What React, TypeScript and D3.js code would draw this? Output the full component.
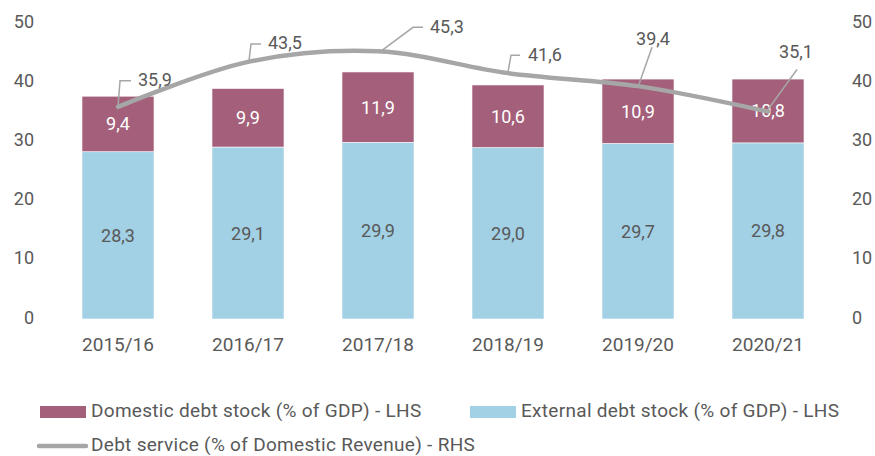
import React from "react";
import * as d3 from "d3";

const categories = ["2015/16", "2016/17", "2017/18", "2018/19", "2019/20", "2020/21"];
const externalDebt = [28.3, 29.1, 29.9, 29.0, 29.7, 29.8];
const domesticDebt = [9.4, 9.9, 11.9, 10.6, 10.9, 10.8];
const debtService = [35.9, 43.5, 45.3, 41.6, 39.4, 35.1];
const leftTicks = [0, 10, 20, 30, 40, 50];
const rightTicks = [0, 10, 20, 30, 40, 50];
const legendLabels = [
  "Domestic debt stock (% of GDP) - LHS",
  "External debt stock (% of GDP) - LHS",
  "Debt service (% of Domestic Revenue) - RHS",
];

// callout layout for line labels (offsets from point): leader path points & text anchor
const callouts = [
  { path: [[0, 0], [2, -26], [13, -26]], text: [20, -27], anchor: "start" },
  { path: [[1, -1], [3, -18], [13, -18]], text: [20, -19], anchor: "start" },
  { path: [[4, -1], [35, -24], [45, -24]], text: [52, -25], anchor: "start" },
  { path: [[0, -1], [3, -18], [12, -18]], text: [20, -19], anchor: "start" },
  { path: [[1, -2], [14, -39]], text: [15, -48], anchor: "middle" },
  { path: [[0, -2], [29, -42]], text: [28, -60], anchor: "middle" },
];

const W = 875;
const H = 456;
const FONT = "Roboto, 'DejaVu Sans', sans-serif";
const TEXT = "#595959";
const DOM = "#A45F7A";
const EXT = "#A2D0E4";
const LINE = "#A6A6A6";

const fmt = (v: number) => v.toFixed(1).replace(".", ",");

export default function App() {
  const x = d3.scaleBand<string>().domain(categories).range([53, 833]).paddingInner(0.446).paddingOuter(0.223);
  const yL = d3.scaleLinear().domain([0, 50]).range([319, 23.5]);
  const yR = d3.scaleLinear().domain([0, 50]).range([319, 23.5]);
  const bw = x.bandwidth();
  const cx = (c: string) => (x(c) as number) + bw / 2;

  const linePath = d3
    .line<number>()
    .x((_, i) => cx(categories[i]))
    .y((d) => yR(d))
    .curve(d3.curveCardinal.tension(0))(debtService) as string;

  return (
    <svg width={W} height={H} style={{ position: "absolute", left: 0, top: 0, background: "#fff" }} fontFamily={FONT}>
      <rect width={W} height={H} fill="#fff" />
      {leftTicks.map((t) => (
        <text key={"l" + t} x={34} y={yL(t) - 2} textAnchor="end" dominantBaseline="central" fontSize={18} fill={TEXT}>
          {t}
        </text>
      ))}
      {rightTicks.map((t) => (
        <text key={"r" + t} x={852} y={yR(t) - 2} textAnchor="start" dominantBaseline="central" fontSize={18} fill={TEXT}>
          {t}
        </text>
      ))}
      {categories.map((c, i) => {
        const x0 = x(c) as number;
        const e = externalDebt[i];
        const d = domesticDebt[i];
        return (
          <g key={c}>
            <rect x={x0} y={yL(e)} width={bw} height={yL(0) - yL(e)} fill={EXT} stroke="#fff" strokeWidth={0.6} />
            <rect x={x0} y={yL(e + d)} width={bw} height={yL(e) - yL(e + d)} fill={DOM} stroke="#fff" strokeWidth={0.6} />
            <text x={cx(c)} y={(yL(0) + yL(e)) / 2} textAnchor="middle" dominantBaseline="central" fontSize={18} fill={TEXT}>
              {fmt(e)}
            </text>
            <text x={cx(c)} y={(yL(e) + yL(e + d)) / 2} textAnchor="middle" dominantBaseline="central" fontSize={18} fill="#fff">
              {fmt(d)}
            </text>
            <text x={cx(c)} y={344} textAnchor="middle" dominantBaseline="central" fontSize={19} fill={TEXT}>
              {c}
            </text>
          </g>
        );
      })}
      <path d={linePath} fill="none" stroke={LINE} strokeWidth={4.5} strokeLinecap="round" />
      {debtService.map((v, i) => {
        const px = cx(categories[i]);
        const py = yR(v);
        const co = callouts[i];
        const pts = co.path.map(([dx, dy]) => [px + dx, py + dy] as [number, number]);
        return (
          <g key={"c" + i}>
            <path d={d3.line()(pts) as string} fill="none" stroke={LINE} strokeWidth={1.5} />
            <text
              x={px + co.text[0]}
              y={py + co.text[1]}
              textAnchor={co.anchor as any}
              dominantBaseline="central"
              fontSize={18}
              fill={TEXT}
            >
              {fmt(v)}
            </text>
          </g>
        );
      })}
      {/* legend */}
      <rect x={40} y={406} width={46} height={12} fill={DOM} />
      <text x={91} y={410} dominantBaseline="central" fontSize={19} letterSpacing={0.3} fill={TEXT}>
        {legendLabels[0]}
      </text>
      <rect x={470} y={406} width={46} height={12} fill={EXT} />
      <text x={521} y={410} dominantBaseline="central" fontSize={19} letterSpacing={0.3} fill={TEXT}>
        {legendLabels[1]}
      </text>
      <line x1={39} x2={86} y1={446} y2={446} stroke={LINE} strokeWidth={4.5} strokeLinecap="round" />
      <text x={91} y={444} dominantBaseline="central" fontSize={19} letterSpacing={0.3} fill={TEXT}>
        {legendLabels[2]}
      </text>
    </svg>
  );
}
